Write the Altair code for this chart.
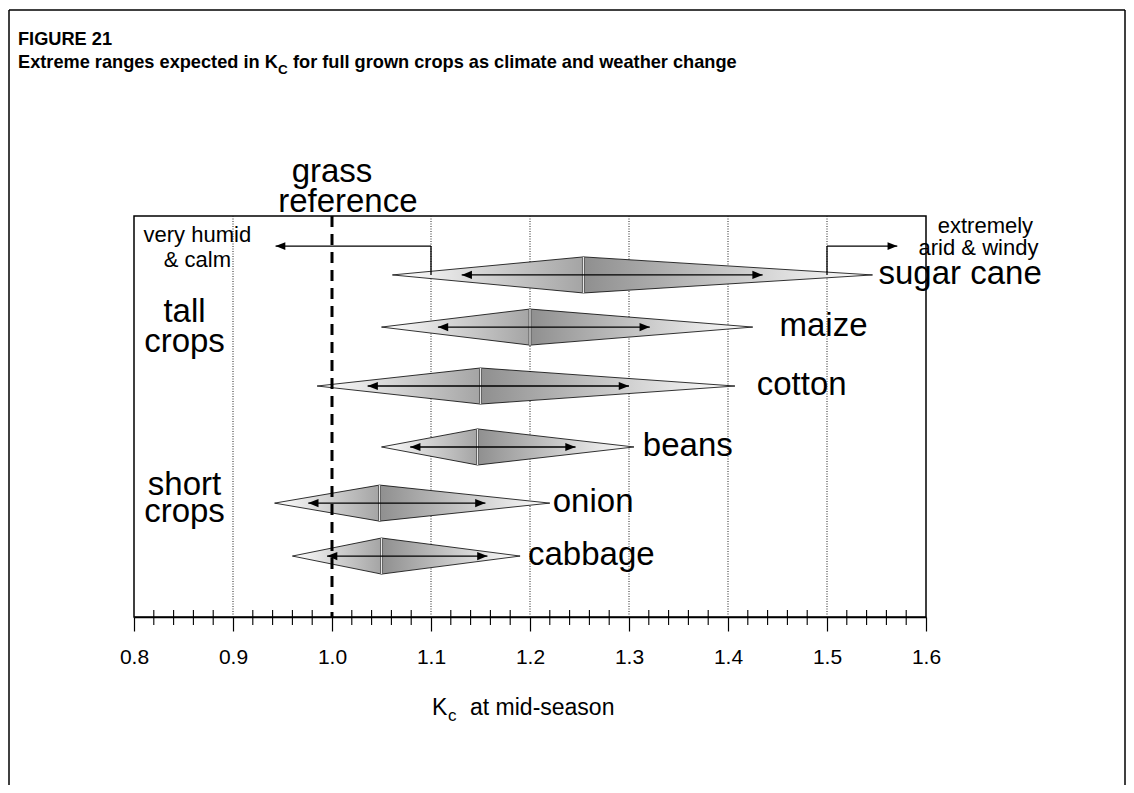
import altair as alt
import pandas as pd

# ---------------- data ----------------
crops = ["sugar cane", "maize", "cotton", "beans", "onion", "cabbage"]
row_level = [8.53, 7.23, 5.76, 4.24, 2.84, 1.52]
kc_low = [1.061, 1.050, 0.985, 1.050, 0.942, 0.960]
kc_mid = [1.254, 1.200, 1.150, 1.147, 1.048, 1.050]
kc_high = [1.546, 1.425, 1.407, 1.305, 1.220, 1.190]
arrow_low = [1.131, 1.107, 1.036, 1.079, 0.976, 0.995]
arrow_high = [1.435, 1.321, 1.300, 1.246, 1.155, 1.157]
label_at = [1.552, 1.452, 1.429, 1.314, 1.223, 1.198]

major_ticks = [0.8, 0.9, 1.0, 1.1, 1.2, 1.3, 1.4, 1.5, 1.6]
minor_ticks = [0.82, 0.84, 0.86, 0.88, 0.92, 0.94, 0.96, 0.98,
               1.02, 1.04, 1.06, 1.08, 1.12, 1.14, 1.16, 1.18,
               1.22, 1.24, 1.26, 1.28, 1.32, 1.34, 1.36, 1.38,
               1.42, 1.44, 1.46, 1.48, 1.52, 1.54, 1.56, 1.58]
dotted_grid = [0.9, 1.1, 1.2, 1.3, 1.4, 1.5]
grass_reference = [1.0]

# climate arrows: (start Kc, tip Kc)
humid_arrow = [1.1, 0.943]
arid_arrow = [1.5, 1.571]
climate_arrow_level = 9.25

big_notes = ["grass", "reference", "tall", "crops", "short", "crops"]
big_notes_x = [1.000, 1.016, 0.851, 0.851, 0.851, 0.851]
big_notes_y = [10.85, 10.10, 7.36, 6.61, 3.04, 2.37]
small_notes = ["very humid", "& calm", "extremely", "arid & windy"]
small_notes_x = [0.864, 0.864, 1.660, 1.653]
small_notes_y = [9.35, 8.73, 9.58, 9.03]

# ---------------- geometry / style ----------------
PW, PH = 792, 401
HALF = 0.45
FONT = "Liberation Sans"

xs = alt.Scale(domain=[0.8, 1.6], nice=False, zero=False)
ys = alt.Scale(domain=[0, 10], nice=False, zero=False)
AX = alt.Axis(values=major_ticks, format=".1f", tickSize=14, tickColor="black",
              tickWidth=1.2, domainColor="black", domainWidth=1.5,
              labelFontSize=21, labelColor="black", labelFont=FONT,
              labelPadding=15, grid=False, title=None, labelFlush=False,
              labelOverlap=False)


def X(f):
    return alt.X(f, type="quantitative", scale=xs, axis=AX)


def Y(f):
    return alt.Y(f, type="quantitative", scale=ys, axis=None)


left_rows, right_rows = [], []
for c, lv, lo, mi, hi in zip(crops, row_level, kc_low, kc_mid, kc_high):
    left_rows += [dict(crop=c, x=lo, y=lv, y2=lv), dict(crop=c, x=mi, y=lv + HALF, y2=lv - HALF)]
    right_rows += [dict(crop=c, x=mi, y=lv + HALF, y2=lv - HALF), dict(crop=c, x=hi, y=lv, y2=lv)]
left_df = pd.DataFrame(left_rows)
right_df = pd.DataFrame(right_rows)

rows_df = pd.DataFrame(dict(crop=crops, lv=row_level, lo=kc_low, mi=kc_mid, hi=kc_high,
                            alo=arrow_low, ahi=arrow_high, lx=label_at,
                            top=[v + HALF for v in row_level],
                            bot=[v - HALF for v in row_level]))

grad_left = alt.Gradient(gradient="linear",
                         stops=[alt.GradientStop(offset=0, color="#ffffff"),
                                alt.GradientStop(offset=1, color="#a4a4a4")],
                         x1=0, x2=1, y1=0, y2=0)
grad_right = alt.Gradient(gradient="linear",
                          stops=[alt.GradientStop(offset=0, color="#8f8f8f"),
                                 alt.GradientStop(offset=1, color="#ffffff")],
                          x1=0, x2=1, y1=0, y2=0)

HEAD_L = "M0,0L1,-0.4L1,0.4Z"
HEAD_R = "M0,0L-1,-0.4L-1,0.4Z"

grid = alt.Chart(pd.DataFrame(dict(x=dotted_grid))).mark_rule(
    color="#222", strokeWidth=1, strokeDash=[1, 1.5]).encode(x=X("x"))

minor = alt.Chart(pd.DataFrame(dict(x=minor_ticks, y=[0] * len(minor_ticks)))).mark_rule(
    color="black", strokeWidth=1.1, yOffset=-7, y2Offset=8).encode(x=X("x"), y=Y("y"), y2="y")

left = alt.Chart(left_df).mark_area(fill=grad_left, stroke="black", strokeWidth=0.8,
                                    orient="vertical").encode(
    x=X("x"), y=Y("y"), y2="y2", detail="crop:N")
right = alt.Chart(right_df).mark_area(fill=grad_right, stroke="black", strokeWidth=0.8,
                                      orient="vertical").encode(
    x=X("x"), y=Y("y"), y2="y2", detail="crop:N")

arrow_line = alt.Chart(rows_df).mark_rule(color="black", strokeWidth=1.3).encode(
    x=X("alo"), x2="ahi", y=Y("lv"))
head_l = alt.Chart(rows_df).mark_point(shape=HEAD_L, size=420, filled=True, color="black",
                                       opacity=1, strokeWidth=0).encode(x=X("alo"), y=Y("lv"))
head_r = alt.Chart(rows_df).mark_point(shape=HEAD_R, size=420, filled=True, color="black",
                                       opacity=1, strokeWidth=0).encode(x=X("ahi"), y=Y("lv"))

center_dark = alt.Chart(rows_df).mark_rule(color="#555", strokeWidth=3).encode(
    x=X("mi"), y=Y("top"), y2="bot")
center_light = alt.Chart(rows_df).mark_rule(color="#e6e6e6", strokeWidth=1.2).encode(
    x=X("mi"), y=Y("top"), y2="bot")

dashed = alt.Chart(pd.DataFrame(dict(x=grass_reference))).mark_rule(
    color="black", strokeWidth=3, strokeDash=[11, 7]).encode(x=X("x"))

labels = alt.Chart(rows_df).mark_text(align="left", baseline="alphabetic", fontSize=33,
                                      font=FONT, color="black", dy=9).encode(
    x=X("lx"), y=Y("lv"), text="crop:N")

# climate arrows
sc_level = row_level[0]
clim_h = pd.DataFrame(dict(a=[humid_arrow[0], arid_arrow[0]], b=[humid_arrow[1], arid_arrow[1]],
                           y=[climate_arrow_level] * 2, ylo=[sc_level] * 2))
clim_hline = alt.Chart(clim_h).mark_rule(color="black", strokeWidth=1.3).encode(
    x=X("a"), x2="b", y=Y("y"))
clim_vline = alt.Chart(clim_h).mark_rule(color="black", strokeWidth=1.3).encode(
    x=X("a"), y=Y("ylo"), y2="y")
clim_head_l = alt.Chart(clim_h.iloc[[0]]).mark_point(shape=HEAD_L, size=380, filled=True,
                                                     color="black", opacity=1, strokeWidth=0).encode(
    x=X("b"), y=Y("y"))
clim_head_r = alt.Chart(clim_h.iloc[[1]]).mark_point(shape=HEAD_R, size=380, filled=True,
                                                     color="black", opacity=1, strokeWidth=0).encode(
    x=X("b"), y=Y("y"))

big_txt = alt.Chart(pd.DataFrame(dict(t=big_notes, x=big_notes_x, y=big_notes_y))).mark_text(
    align="center", baseline="alphabetic", fontSize=33, font=FONT, color="black").encode(
    x=X("x"), y=Y("y"), text="t:N")
small_txt = alt.Chart(pd.DataFrame(dict(t=small_notes, x=small_notes_x, y=small_notes_y))).mark_text(
    align="center", baseline="alphabetic", fontSize=22, font=FONT, color="black").encode(
    x=X("x"), y=Y("y"), text="t:N")


def deco_text(txt, x, y, size, bold=False, align="left"):
    return alt.Chart(pd.DataFrame(dict(t=[txt]))).mark_text(
        align=align, baseline="alphabetic", fontSize=size, font=FONT, color="black",
        fontWeight="bold" if bold else "normal").encode(
        x=alt.value(x), y=alt.value(y), text="t:N")


# titles (pixel positions relative to plot origin)
t1 = deco_text("FIGURE 21", -116, -171, 18.2, bold=True)
t2a = deco_text("Extreme ranges expected in K", -116, -148, 18.2, bold=True)
t2b = deco_text("C", 144, -142, 13.5, bold=True)
t2c = deco_text("for full grown crops as climate and weather change", 159, -148, 18.2, bold=True)

# axis title
a1 = deco_text("K", 298, 499, 23)
a2 = deco_text("c", 314, 505, 17)
a3 = deco_text("at mid-season", 336, 499, 23)

# outer frame
frame_l = alt.Chart(pd.DataFrame(dict(k=[0]))).mark_rule(color="black", strokeWidth=1.5).encode(
    x=alt.value(-125), y=alt.value(-206), y2=alt.value(569))
frame_t = alt.Chart(pd.DataFrame(dict(k=[0]))).mark_rule(color="black", strokeWidth=1.5).encode(
    x=alt.value(-125), x2=alt.value(991), y=alt.value(-206))
frame_r = alt.Chart(pd.DataFrame(dict(k=[0]))).mark_rule(color="black", strokeWidth=1.5).encode(
    x=alt.value(991), y=alt.value(-206), y2=alt.value(569))

chart = alt.layer(
    grid, minor, left, right, center_dark, center_light, arrow_line, head_l, head_r,
    dashed, labels, clim_hline, clim_vline, clim_head_l, clim_head_r,
    big_txt, small_txt, t1, t2a, t2b, t2c, a1, a2, a3, frame_l, frame_t, frame_r
).properties(
    width=PW, height=PH,
    autosize=alt.AutoSizeParams(type="none"),
    padding={"left": 126, "top": 208, "right": 200, "bottom": 168},
    background="white",
).configure_view(stroke="black", strokeWidth=1.5)

chart.save("out.html", embed_options={"renderer": "svg", "actions": False})
